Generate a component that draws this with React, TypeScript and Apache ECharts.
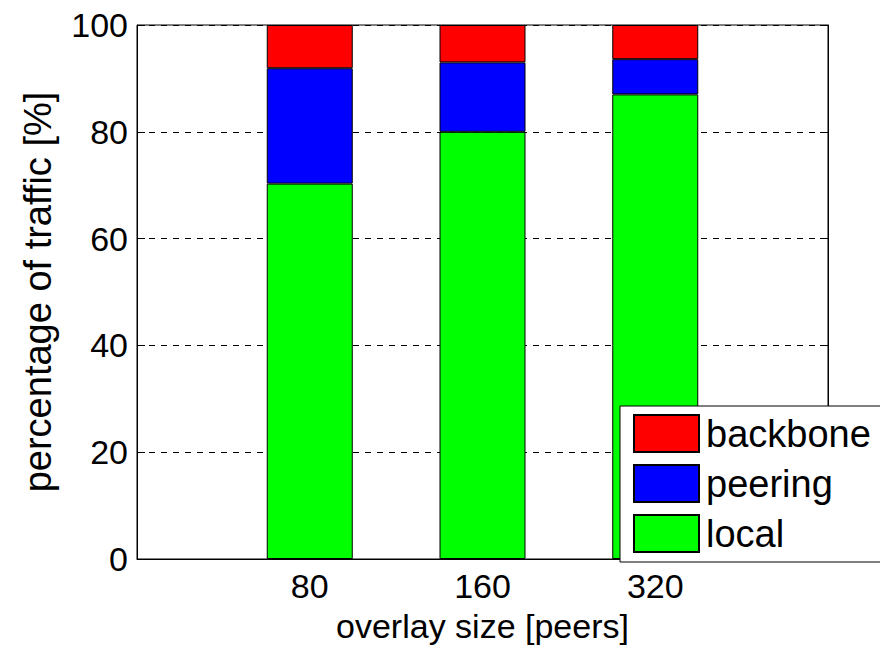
import React, { useEffect, useRef } from "react";
import * as echarts from "echarts";

const categories = ["", "80", "160", "320", ""];
const localValues = ["-", 70.3, 80.0, 87.0, "-"];
const peeringValues = ["-", 21.6, 13.0, 6.6, "-"];
const backboneValues = ["-", 8.1, 7.0, 6.4, "-"];

const FONT = "'Liberation Sans', Arial, Helvetica, sans-serif";

export default function App() {
  const ref = useRef<HTMLDivElement>(null);
  useEffect(() => {
    if (!ref.current) return;
    const chart = echarts.init(ref.current, null, { renderer: "svg" });
    const barStyle = (color: string) => ({
      color,
      borderColor: "#000",
      borderWidth: 1,
    });
    chart.setOption({
      animation: false,
      backgroundColor: "#fff",
      grid: {
        left: 137,
        top: 25,
        right: 52,
        bottom: 90,
        show: true,
        borderColor: "#000",
        borderWidth: 1,
        backgroundColor: "transparent",
      },
      legend: {
        data: ["backbone", "peering", "local"],
        orient: "vertical",
        left: 620,
        top: 406,
        padding: [8, 24, 9, 13],
        itemWidth: 65,
        itemHeight: 37,
        itemGap: 11,
        backgroundColor: "#fff",
        borderColor: "#000",
        borderWidth: 1,
        borderRadius: 0,
        icon: "rect",
        textStyle: {
          fontFamily: FONT,
          fontSize: 38,
          color: "#000",
          padding: [0, 0, 0, 2],
        },
      },
      xAxis: {
        type: "category",
        data: categories,
        boundaryGap: false,
        name: "overlay size [peers]",
        nameLocation: "middle",
        nameGap: 50,
        nameTextStyle: { fontFamily: FONT, fontSize: 34, color: "#000" },
        axisLine: { show: true, lineStyle: { color: "#000", width: 1 } },
        axisTick: { show: true, inside: true, length: 8, lineStyle: { color: "#000" } },
        axisLabel: {
          fontFamily: FONT,
          fontSize: 34,
          color: "#000",
          margin: 10,
          interval: 0,
        },
        splitLine: { show: false },
      },
      yAxis: [
        {
          type: "value",
          min: 0,
          max: 100,
          interval: 20,
          name: "percentage of traffic [%]",
          nameLocation: "middle",
          nameGap: 80,
          nameTextStyle: { fontFamily: FONT, fontSize: 38, color: "#000" },
          axisLine: { show: true, lineStyle: { color: "#000", width: 1 } },
          axisTick: { show: true, inside: true, length: 8, lineStyle: { color: "#000" } },
          axisLabel: {
            fontFamily: FONT,
            fontSize: 34,
            color: "#000",
            margin: 9,
          },
          splitLine: {
            show: true,
            lineStyle: { color: "#000", type: [6, 6], width: 1 },
          },
        },
        {
          type: "value",
          min: 0,
          max: 100,
          interval: 20,
          position: "right",
          axisLine: { show: true, lineStyle: { color: "#000", width: 1 } },
          axisTick: { show: true, inside: true, length: 8, lineStyle: { color: "#000" } },
          axisLabel: { show: false },
          splitLine: { show: false },
        },
      ],
      series: [
        {
          name: "local",
          type: "bar",
          stack: "total",
          barWidth: 86,
          itemStyle: barStyle("#00ff00"),
          data: localValues,
        },
        {
          name: "peering",
          type: "bar",
          stack: "total",
          barWidth: 86,
          itemStyle: barStyle("#0000ff"),
          data: peeringValues,
        },
        {
          name: "backbone",
          type: "bar",
          stack: "total",
          barWidth: 86,
          itemStyle: barStyle("#ff0000"),
          data: backboneValues,
        },
      ],
    });
    return () => chart.dispose();
  }, []);
  return (
    <div
      ref={ref}
      style={{ position: "fixed", left: 0, top: 0, width: 880, height: 649, background: "#fff" }}
    />
  );
}
